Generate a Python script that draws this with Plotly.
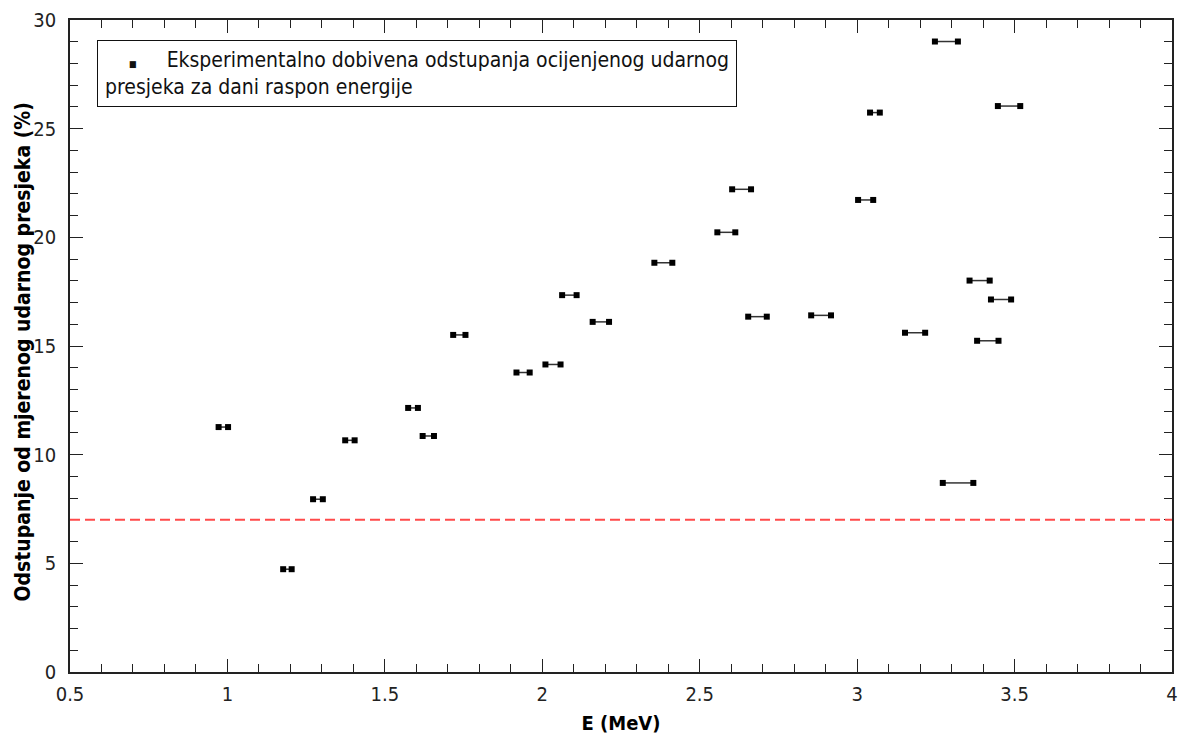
import plotly.graph_objects as go

# Energy bins (MeV): lower and upper edges, and deviation (%)
e_low = [0.972, 1.177, 1.272, 1.374, 1.574, 1.620, 1.717, 1.918, 2.010, 2.063,
         2.160, 2.356, 2.556, 2.603, 2.654, 2.854, 3.003, 3.041, 3.152, 3.247,
         3.272, 3.357, 3.381, 3.425, 3.447]
e_high = [1.002, 1.204, 1.303, 1.404, 1.605, 1.656, 1.756, 1.960, 2.058, 2.109,
          2.212, 2.413, 2.613, 2.663, 2.713, 2.917, 3.051, 3.072, 3.216, 3.320,
          3.369, 3.421, 3.449, 3.489, 3.518]
deviation = [11.27, 4.73, 7.95, 10.66, 12.15, 10.86, 15.51, 13.78, 14.15, 17.34,
             16.11, 18.83, 20.23, 22.21, 16.35, 16.41, 21.72, 25.74, 15.61, 29.01,
             8.70, 18.01, 15.24, 17.14, 26.04]
threshold = 7.0

legend_line1 = "Eksperimentalno dobivena odstupanja ocijenjenog udarnog"
legend_line2 = "presjeka za dani raspon energije"
x_title = "E (MeV)"
y_title = "Odstupanje od mjerenog udarnog presjeka (%)"

xs, ys = [], []
for lo, hi, v in zip(e_low, e_high, deviation):
    xs += [lo, hi, None]
    ys += [v, v, None]

FONT = "DejaVu Sans Condensed, DejaVu Sans, sans-serif"

fig = go.Figure()
fig.add_trace(go.Scatter(
    x=xs, y=ys, mode="lines+markers",
    line=dict(color="#333333", width=1.5),
    marker=dict(symbol="square", size=6, color="black"),
    showlegend=False, hoverinfo="skip",
))

fig.add_shape(type="line", xref="x domain", yref="y", x0=0, x1=1,
              y0=threshold, y1=threshold,
              line=dict(color="#ff4a4a", width=2, dash="10px,5px"))

# legend box built from annotation
fig.add_annotation(
    xref="paper", yref="paper", x=0.0245, y=0.969, xanchor="left", yanchor="top",
    text=("&nbsp;&nbsp;&nbsp;&nbsp;<span style='font-size:9px'>&#9632;</span>"
          "&nbsp;&nbsp;&nbsp;&nbsp;&nbsp;" + legend_line1 + "<br>" + legend_line2),
    align="left", showarrow=False,
    font=dict(family=FONT, size=21, color="#111111"),
    bordercolor="#111111", borderwidth=1, borderpad=7, bgcolor="white",
)

# y axis title placed as rotated annotation (sits close to tick labels as in reference)
fig.add_annotation(
    xref="paper", yref="paper", x=-0.0435, y=0.49, xanchor="center", yanchor="middle",
    text="<b>" + y_title + "</b>", textangle=-90, showarrow=False,
    font=dict(family=FONT, size=21, color="black"),
)

axis_common = dict(
    showline=True, linecolor="#222222", linewidth=1.5, mirror="allticks",
    ticks="inside", ticklen=13, tickwidth=1.2, tickcolor="#222222",
    showgrid=False, zeroline=False, automargin=False,
    tickfont=dict(family=FONT, size=20, color="#222222"),
)

fig.update_xaxes(
    range=[0.5, 4], dtick=0.5, tick0=0.5,
    minor=dict(ticks="inside", dtick=0.1, ticklen=8, tickcolor="#222222", tickwidth=1),
    title=dict(text="<b>" + x_title + "</b>", font=dict(family=FONT, size=20, color="black"), standoff=11),
    ticklabelstandoff=3,
    **axis_common,
)
fig.update_yaxes(
    range=[0, 30], dtick=5,
    minor=dict(ticks="inside", dtick=1, ticklen=8, tickcolor="#222222", tickwidth=1),
    ticklabelstandoff=8,
    **axis_common,
)

# page body has an 8px default margin: size the figure so the plot area lands where the reference has it
fig.update_layout(
    width=1179, height=734,
    margin=dict(l=62, r=15, t=12, b=70),
    plot_bgcolor="white", paper_bgcolor="white",
    font=dict(family=FONT),
)

fig.write_html("out.html")
